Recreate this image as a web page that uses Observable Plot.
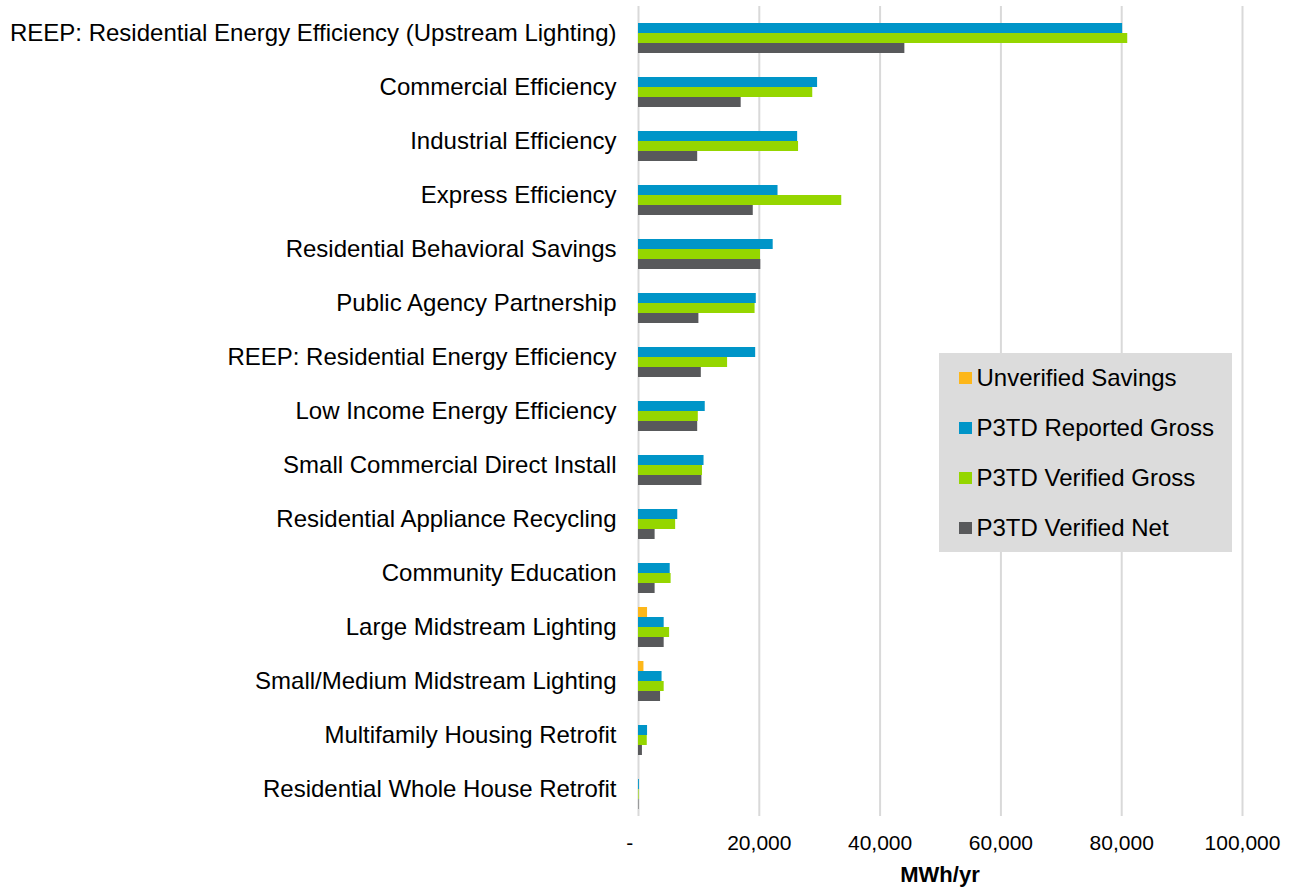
<!DOCTYPE html>
<html>
<head>
<meta charset="utf-8">
<script src="https://cdn.jsdelivr.net/npm/d3@7"></script>
<script src="https://cdn.jsdelivr.net/npm/@observablehq/plot@0.6"></script>
<style>
  html, body { margin: 0; padding: 0; background: #fff; }
  #wrap { position: relative; width: 1294px; height: 892px; font-family: "Liberation Sans", Arial, sans-serif; }
  #legend { position: absolute; left: 939px; top: 353px; width: 293px; height: 199px; background: #dcdcdc; }
  .item { position: absolute; left: 20px; height: 30px; display: flex; align-items: center; font-size: 24px; color: #000; white-space: nowrap; }
  .sw { width: 12.5px; height: 12.5px; margin-right: 5px; flex: none; }
  #xlabel { position: absolute; left: 840px; width: 200px; text-align: center; top: 862px; font-family: "Liberation Sans", Arial, sans-serif; font-weight: bold; font-size: 22px; line-height: 25px; color: #000; }
</style>
</head>
<body>
<div id="wrap"></div>
<script>
const categories = [
  "REEP: Residential Energy Efficiency (Upstream Lighting)",
  "Commercial Efficiency",
  "Industrial Efficiency",
  "Express Efficiency",
  "Residential Behavioral Savings",
  "Public Agency Partnership",
  "REEP: Residential Energy Efficiency",
  "Low Income Energy Efficiency",
  "Small Commercial Direct Install",
  "Residential Appliance Recycling",
  "Community Education",
  "Large Midstream Lighting",
  "Small/Medium Midstream Lighting",
  "Multifamily Housing Retrofit",
  "Residential Whole House Retrofit"
];
const seriesNames = ["Unverified Savings", "P3TD Reported Gross", "P3TD Verified Gross", "P3TD Verified Net"];
const seriesColors = ["#FDB71A", "#0095C8", "#95D600", "#58595B"];
const unverifiedSavings = [0, 0, 0, 0, 0, 0, 0, 0, 0, 0, 0, 1500, 900, 0, 0];
const reportedGross = [80150, 29650, 26350, 23100, 22300, 19500, 19400, 11050, 10850, 6500, 5250, 4250, 3900, 1500, 150];
const verifiedGross = [81000, 28850, 26500, 33650, 20200, 19300, 14750, 9900, 10600, 6150, 5400, 5150, 4250, 1450, 100];
const verifiedNet = [44100, 17000, 9800, 19000, 20250, 10000, 10400, 9800, 10500, 2750, 2750, 4250, 3650, 650, 80];
const xTicks = [0, 20000, 40000, 60000, 80000, 100000];
const xLabel = "MWh/yr";

const seriesValues = [unverifiedSavings, reportedGross, verifiedGross, verifiedNet];
const data = [];
categories.forEach((c, i) => {
  seriesNames.forEach((s, j) => {
    data.push({category: c, series: s, value: seriesValues[j][i]});
  });
});

const fmt = d3.format(",");
const chart = Plot.plot({
  width: 1294,
  height: 892,
  marginTop: 6,
  marginBottom: 76,
  marginLeft: 638,
  marginRight: 52,
  style: {fontFamily: "'Liberation Sans', Arial, sans-serif", color: "#000", background: "#fff"},
  x: {domain: [0, 100000], axis: null},
  y: {domain: seriesNames, paddingInner: 0, paddingOuter: 0.7, axis: null},
  fy: {domain: categories, padding: 0, axis: null},
  color: {domain: seriesNames, range: seriesColors},
  marks: [
    Plot.gridX(xTicks, {stroke: "#d9d9d9", strokeWidth: 2, strokeOpacity: 1}),
    Plot.barX(data, {x: "value", y: "series", fy: "category", fill: "series"}),
    Plot.axisFy({anchor: "left", tickSize: 0, tickPadding: 22, fontSize: 24, label: null}),
    Plot.axisX(xTicks, {
      tickSize: 0, tickPadding: 19, fontSize: 21, label: null,
      tickFormat: d => d === 0 ? "-\u00a0\u00a0\u00a0" : fmt(d)
    })
  ]
});

const wrap = document.getElementById("wrap");
wrap.appendChild(chart);

const legend = document.createElement("div");
legend.id = "legend";
seriesNames.forEach((s, j) => {
  const item = document.createElement("div");
  item.className = "item";
  item.style.top = (10 + j * 50) + "px";
  const sw = document.createElement("span");
  sw.className = "sw";
  sw.style.background = seriesColors[j];
  const t = document.createElement("span");
  t.textContent = s;
  item.appendChild(sw);
  item.appendChild(t);
  legend.appendChild(item);
});
wrap.appendChild(legend);

const xl = document.createElement("div");
xl.id = "xlabel";
xl.textContent = xLabel;
wrap.appendChild(xl);
</script>
</body>
</html>
